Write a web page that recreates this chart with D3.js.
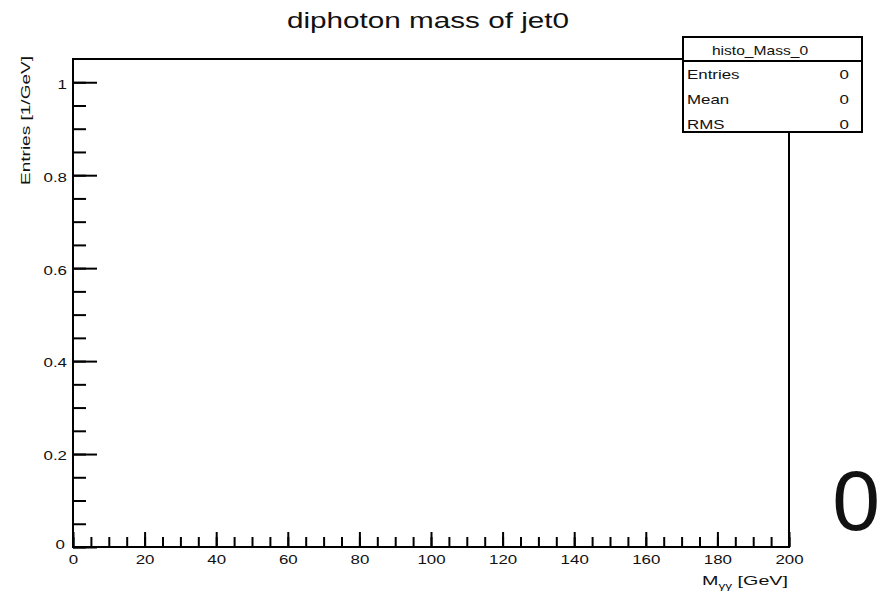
<!DOCTYPE html>
<html>
<head>
<meta charset="utf-8">
<script src="https://cdn.jsdelivr.net/npm/d3@7"></script>
<style>
  body { margin: 0; background: #fff; }
  svg text { font-family: "Liberation Sans", Arial, sans-serif; fill: #111; }
</style>
</head>
<body>
<svg id="chart" width="882" height="592"></svg>
<script>
// histogram is empty: no bins were filled
var histName = "histo_Mass_0";
var histBins = [];
var statLabels = ["Entries", "Mean", "RMS"];
var statValues = [0, 0, 0];
var xMajor = [0, 20, 40, 60, 80, 100, 120, 140, 160, 180, 200];
var xMinor = d3.range(0, 201, 5);
var yMajor = [0, 0.2, 0.4, 0.6, 0.8, 1];
var yMinor = d3.range(0, 1.0001, 0.05);
var xDomain = [0, 200];
var yDomain = [0, 1.05];

var svg = d3.select("#chart");
var sx = 1.3; // text is drawn a little wide, like the original canvas

var x = d3.scaleLinear().domain(xDomain).range([73, 789]);
var y = d3.scaleLinear().domain(yDomain).range([547, 59]);

// frame
svg.append("rect")
.attr("x", x(0))
.attr("y", y(yDomain[1]))
.attr("width", x(200) - x(0))
.attr("height", y(0) - y(yDomain[1]))
.attr("fill", "none")
.attr("stroke", "#000")
.attr("stroke-width", 2);

// bins (none)
svg.selectAll(".bin")
.data(histBins)
.enter().append("rect")
.attr("class", "bin")
.attr("x", function(d) { return x(d.lo); })
.attr("width", function(d) { return x(d.hi) - x(d.lo); })
.attr("y", function(d) { return y(d.v); })
.attr("height", function(d) { return y(0) - y(d.v); })
.attr("fill", "none")
.attr("stroke", "#000");

// x axis
var gx = svg.append("g").attr("transform", "translate(0," + y(0) + ")");
gx.append("g")
.call(d3.axisBottom(x).tickValues(xMinor).tickSize(-10).tickFormat(""));
gx.append("g")
.call(d3.axisBottom(x).tickValues(xMajor).tickSize(-15).tickPadding(8).tickFormat(d3.format("d")));

// y axis
var gy = svg.append("g").attr("transform", "translate(" + x(0) + ",0)");
gy.append("g")
.call(d3.axisLeft(y).tickValues(yMinor).tickSize(-13).tickFormat(""));
gy.append("g")
.call(d3.axisLeft(y).tickValues(yMajor).tickSize(-24).tickPadding(6).tickFormat(function(d)
{
	return d === 0 ? "0" : d3.format("~g")(d);
}));

svg.selectAll(".domain").remove();
svg.selectAll(".tick line").attr("stroke", "#000").attr("stroke-width", 2);

gx.selectAll(".tick text")
.attr("font-size", 13)
.attr("fill", "#222")
.attr("transform", "scale(" + sx + ",1)");

gy.selectAll(".tick text")
.attr("font-size", 13)
.attr("fill", "#222")
.attr("x", -6 / sx)
.attr("dy", "0.45em")
.attr("transform", "scale(" + sx + ",1)");

// y label 0 sits a bit up and left
gy.selectAll(".tick").filter(function(d) { return d === 0; })
.select("text").attr("dy", "0.1em").attr("x", -8 / sx);

function wideText(g, px, py, str, size, anchor)
{
	return g.append("text")
	.attr("transform", "translate(" + px + "," + py + ") scale(" + sx + ",1)")
	.attr("font-size", size)
	.attr("text-anchor", anchor)
	.text(str);
}

// title
svg.append("text")
.attr("x", 428)
.attr("y", 28)
.attr("font-size", 22)
.attr("text-anchor", "middle")
.attr("textLength", 282)
.attr("lengthAdjust", "spacingAndGlyphs")
.text("diphoton mass of jet0");

// axis titles
var xt = svg.append("text")
.attr("x", 788)
.attr("y", 585)
.attr("font-size", 13)
.attr("text-anchor", "end")
.attr("textLength", 86)
.attr("lengthAdjust", "spacingAndGlyphs");
xt.append("tspan").text("M");
xt.append("tspan").attr("font-size", 9).attr("dy", 4).text("γγ");
xt.append("tspan").attr("dy", -4).text(" [GeV]");

svg.append("text")
.attr("transform", "translate(30,56) rotate(-90)")
.attr("font-size", 13)
.attr("text-anchor", "end")
.attr("textLength", 129)
.attr("lengthAdjust", "spacingAndGlyphs")
.text("Entries [1/GeV]");

// stats box
var box = svg.append("g");
box.append("rect")
.attr("x", 683).attr("y", 37)
.attr("width", 179).attr("height", 95)
.attr("fill", "#fff")
.attr("stroke", "#000")
.attr("stroke-width", 2);
box.append("line")
.attr("x1", 683).attr("x2", 862)
.attr("y1", 61).attr("y2", 61)
.attr("stroke", "#000")
.attr("stroke-width", 2);
wideText(box, 760, 55, histName, 12, "middle");

statLabels.forEach(function(lbl, i)
{
	var yy = 79 + i * 25;
	wideText(box, 687, yy, lbl, 13, "start");
	wideText(box, 849, yy, String(statValues[i]), 13, "end");
});

// big counter at the right
svg.append("text")
.attr("x", 880)
.attr("y", 530)
.attr("font-family", "Roboto, 'Open Sans', sans-serif")
.attr("font-size", 86)
.attr("font-weight", 300)
.attr("text-anchor", "end")
.attr("fill", "#222")
.text(String(statValues[0]));
</script>
</body>
</html>
